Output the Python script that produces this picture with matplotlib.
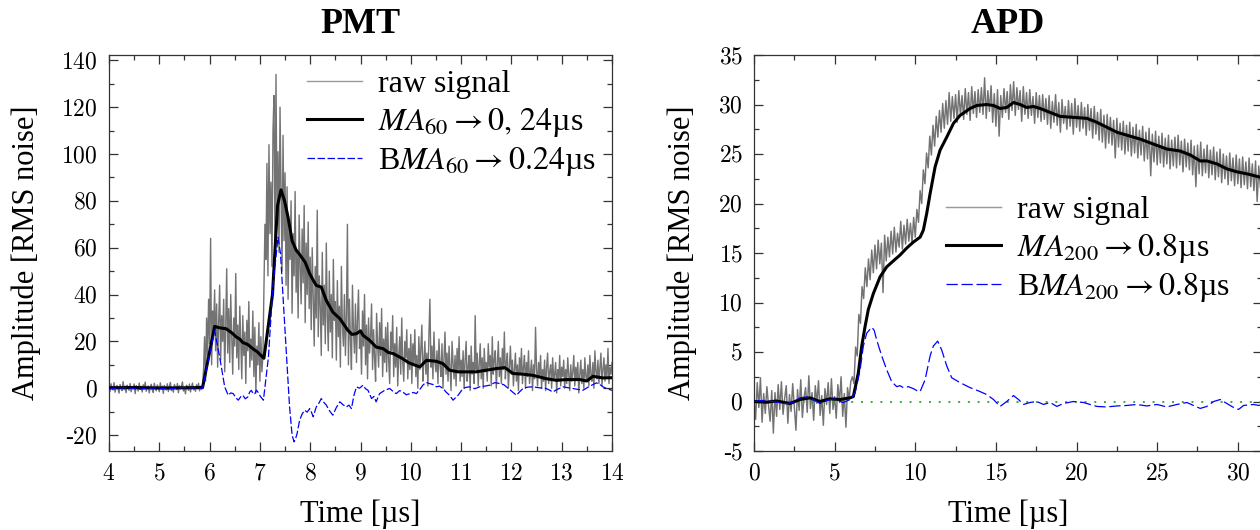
import numpy as np
import matplotlib
matplotlib.use("Agg")
import matplotlib.pyplot as plt
from matplotlib.ticker import MultipleLocator, FuncFormatter

# ---------------- PMT data ----------------
pmt_t0, pmt_dt = 4.0, 0.02
pmt_raw = [
    # 4.00 - 5.86 baseline
    0.6, -1.4, 1.9, 0.2, -0.8, 2.4, -1.7, 0.5, 1.2, -0.3,
    -2.1, 1.6, 0.1, -1.0, 2.8, -0.6, 0.9, -1.9, 1.3, 0.4,
    -0.9, 2.0, -1.5, 0.7, -0.2, 1.8, -2.3, 1.1, 0.3, -1.2,
    2.2, -0.5, 0.8, -1.6, 1.5, -0.1, 2.6, -1.3, 0.2, 1.0,
    -2.0, 0.6, 1.7, -0.7, -1.8, 2.1, 0.0, -1.1, 1.4, 0.5,
    -1.5, 2.3, -0.4, 0.9, -2.2, 1.2, 0.3, -0.8, 1.9, -1.4,
    0.7, 2.5, -1.0, 0.1, -1.7, 1.6, 0.4, -0.6, 2.0, -1.9,
    1.1, -0.3, 0.8, 2.7, -1.2, 0.2, -2.4, 1.3, 0.6, -0.9,
    1.8, -1.6, 0.5, 2.2, -0.7, 0.0, -1.3, 1.5, -0.2, 2.1,
    -1.1, 0.9, -0.5, 1.4,
    # 5.88 - 7.06 first pulse
    8, 22, 3, 30, 14, 38, 19, 64, 10, 33, 25, 42,
    16, 36, 9, 28, 44, 12, 31, 20, 38, 7, 26, 51, 15, 34, 11, 40, 22, 6, 30, 18,
    49, 13, 27, 8, 35, 19, 4, 31, 14, 24, 2, 29, 16, 37, 9, 21, 12, 33, 5, 26,
    -2, 18, 10, 28, 3, 22, 7, 14,
    # 7.08 - 7.50 main pulse
    42, 70, 55, 96, 48, 104, 66, 88, 52, 110, 125, 60, 134, 72, 101, 58, 120, 84,
    50, 108, 63, 92,
    # 7.52 - 8.00
    44, 86, 38, 70, 55, 80, 32, 66, 48, 84, 41, 59, 30, 74, 52, 36, 68, 45, 78, 28,
    62, 40, 71, 34, 56,
    # 8.02 - 8.50
    25, 60, 38, 18, 52, 30, 76, 22, 48, 35, 14, 58, 27, 44, 19, 62, 31, 16, 50, 24,
    40, 13, 55, 29, 37,
    # 8.52 - 9.00
    12, 46, 22, 35, 9, 52, 27, 18, 40, 14, 31, 70, 10, 38, 21, 8, 44, 25, 15, 36,
    11, 29, 42, 17, 24,
    # 9.02 - 9.50
    6, 33, 18, 40, 10, 27, 4, 30, 15, 22, 36, 8, 25, 13, 3, 32, 19, 9, 28, 14,
    34, 5, 21, 11, 26,
    # 9.52 - 10.00
    7, 28, 12, 2, 24, 16, 31, 5, 19, 9, 26, 1, 14, 22, 6, 30, 11, 3, 20, 13,
    25, 4, 17, 8, 23,
    # 10.02 - 10.50
    2, 19, 10, 25, 5, 14, 0, 22, 8, 17, 27, 3, 12, 20, 6, 15, 1, 23, 38, 9,
    18, 4, 24, 11, 7,
    # 10.52 - 11.00
    16, 2, 21, 10, 5, 19, 0, 13, 24, 6, 15, 3, 18, 8, -1, 20, 11, 4, 14, 1,
    17, 7, 22, 3, 12,
    # 11.02 - 11.50
    5, 16, 0, 12, 20, 3, 9, 14, -1, 18, 6, 11, 2, 31, 8, 15, 1, 10, 19, 4,
    13, 0, 17, 7, 11,
    # 11.52 - 12.00
    3, 19, 9, 14, 1, 22, 6, 12, 16, 0, 10, 20, 5, 13, 2, 17, 8, 24, 4, 11,
    15, 0, 9, 18, 6,
    # 12.02 - 12.50
    12, 1, 8, 15, 3, 10, -1, 13, 6, 17, 2, 9, 14, 0, 11, 5, 16, 2, 7, 12,
    -1, 10, 4, 26, 8,
    # 12.52 - 13.00
    1, 11, 5, 14, 0, 8, 3, 12, -1, 9, 15, 2, 7, 10, 0, 13, 4, 6, 11, -2,
    8, 3, 14, 1, 9,
    # 13.02 - 13.50
    5, 12, 0, 8, 2, 13, 6, -1, 10, 3, 7, 14, 1, 9, 4, 11, -2, 6, 12, 2,
    8, 0, 13, 5, 3,
    # 13.52 - 14.00
    10, 1, 14, 6, 3, 11, 0, 16, 7, 4, 12, 2, 9, 15, 1, 8, 13, 3, 10, 5,
    17, 2, 9, 6, 11,
]
pmt_ma_t = [4.0, 4.5, 5.0, 5.5, 5.86, 6.10, 6.2, 6.33, 6.45, 6.53, 6.6, 6.66, 6.75, 6.86,
            6.95, 7.08, 7.25, 7.35, 7.42, 7.49, 7.56, 7.64, 7.72, 7.78, 7.9, 7.99, 8.05,
            8.12, 8.22, 8.32, 8.45, 8.59, 8.75, 8.83, 8.92, 9.0, 9.05, 9.18, 9.31, 9.45,
            9.55, 9.65, 9.84, 9.95, 10.04, 10.18, 10.25, 10.31, 10.51, 10.64, 10.77,
            10.94, 11.1, 11.3, 11.5, 11.7, 11.87, 12.03, 12.23, 12.43, 12.69, 12.89,
            13.1, 13.36, 13.5, 13.62, 13.82, 14.0]
pmt_ma = [0.2, 0.3, 0.1, 0.2, 0.3, 26.4, 25.8, 25.4, 23.5, 21.9, 21.0, 19.5, 18.8, 16.9,
          15.5, 12.8, 40.0, 78.0, 84.7, 80.0, 73.0, 63.0, 59.0, 57.4, 53.8, 48.9, 46.5,
          43.9, 43.2, 37.5, 32.5, 29.7, 24.7, 23.0, 23.3, 24.5, 22.6, 20.5, 17.6, 16.9,
          15.3, 14.8, 12.6, 11.0, 10.2, 9.1, 10.6, 11.9, 11.5, 10.5, 7.7,
          7.0, 7.0, 7.0, 7.7, 8.4, 8.8, 6.3, 6.0, 5.5, 4.1, 3.4,
          3.7, 3.7, 3.1, 5.1, 4.4, 4.5]
pmt_bma_t = [4.0, 4.3, 4.6, 4.9, 5.2, 5.5, 5.86, 6.10, 6.2, 6.3, 6.37, 6.42, 6.47, 6.52,
             6.57, 6.62, 6.66, 6.71, 6.76, 6.8, 6.83, 6.87, 6.9, 6.93, 6.96, 7.01, 7.07,
             7.17, 7.26, 7.36, 7.41, 7.48, 7.55, 7.59, 7.64, 7.68, 7.71, 7.74, 7.79, 7.84,
             7.89, 7.94, 7.99, 8.03, 8.06, 8.12, 8.17, 8.22, 8.27, 8.32, 8.38, 8.45, 8.52,
             8.59, 8.65, 8.72, 8.77, 8.82, 8.87, 8.92, 8.98, 9.05, 9.1, 9.15, 9.22, 9.27,
             9.31, 9.38, 9.48, 9.58, 9.65, 9.71, 9.78, 9.84, 9.91, 9.98, 10.05, 10.11,
             10.18, 10.24, 10.3, 10.37, 10.44, 10.51, 10.57, 10.64, 10.7, 10.77, 10.84,
             10.9, 10.94, 11.0, 11.04, 11.1, 11.17, 11.27, 11.37, 11.47, 11.57, 11.67,
             11.77, 11.85, 11.9, 12.0, 12.1, 12.16, 12.23, 12.33, 12.43, 12.55, 12.69,
             12.76, 12.82, 12.92, 13.03, 13.13, 13.22, 13.32, 13.42, 13.55, 13.69, 13.76,
             13.82, 13.9, 14.0]
pmt_bma = [-0.3, 0.2, -0.4, 0.1, -0.2, 0.3, 0.0, 24.5, 13.4, 0.6, -3.0, -2.0, -2.3, -4.0,
           -5.1, -3.6, -3.0, -4.5, -3.7, -1.5, -0.9, -2.5, -2.3, -0.8, -1.6, -3.5, -5.1,
           13.4, 44.0, 64.5, 57.4, 31.8, 6.3, -8.0, -20.0, -22.9, -21.5, -19.3, -13.6, -11.0,
           -9.4, -10.2, -8.7, -10.5, -12.2, -8.0, -6.5, -4.4, -6.0, -7.2, -9.5, -11.5, -8.2,
           -5.8, -7.0, -8.0, -7.2, -8.7, -3.0, 0.6, 0.0, 1.3, -0.2, -0.9, -4.4, -3.5,
           -5.8, -2.3, -0.9, -0.1, -1.4, -2.3, -1.0, -1.6, -2.8, -2.3, -1.8, -2.3,
           -0.5, 1.3, 2.5, 2.0, 1.6, 0.6, 0.9, -0.1, -1.6, -3.0, -5.1,
           -3.8, -3.0, -1.2, -0.1, 0.4, 0.6, -0.2, 0.6, 0.9, 1.3, 2.4,
           2.0, 1.5, 0.6, -1.2, -3.0, -1.6, -0.1, 0.5, 0.6, 0.2, -0.1,
           -0.8, -1.6, -0.4, 0.6, 0.2, -0.1, -0.5, -0.9, 0.8, 2.3, 1.6,
           0.6, -0.2, -0.9]

# ---------------- APD data ----------------
apd_t0, apd_dt = 0.0, 0.1
apd_raw = [
    0.5, -1.8, 1.9, -0.6, 2.4, -2.1, 0.8, -1.2, 1.5, -0.4,
    -2.0, 1.1, -3.2, 0.9, -1.5, 1.7, -0.8, 2.0, -1.3, 0.3,
    1.6, -2.2, 0.7, -1.0, 1.8, -0.5, -2.9, 1.2, -0.9, 2.2,
    -1.6, 0.4, 1.4, -1.1, 2.6, -0.7, 0.9, -1.9, 1.6, -0.2,
    2.1, -1.4, 0.6, -2.4, 1.3, -0.3, 1.9, -1.2, 2.3, -0.8,
    0.5, -1.7, 1.7, -0.1, 2.5, -1.5, 0.8, -2.6, 1.4, 0.2, 2.0,
    2.5, 1.8, 5.5, 4.6, 8.8, 7.9, 11.6, 10.4, 13.5, 11.6,
    14.4, 12.3, 15.3, 13.0, 15.8, 13.4, 16.3, 13.9, 16.0, 11.0,
    16.8, 14.2, 16.6, 14.6, 17.2, 14.9, 17.6, 15.1, 17.0, 15.6,
    18.2, 15.4, 17.8, 15.9, 18.4, 16.2, 18.0, 16.0, 18.6, 16.6,
    19.4, 18.1, 21.3, 20.0, 23.4, 22.0, 25.1, 23.6, 26.8, 24.9,
    27.9, 25.8, 28.8, 26.7, 29.4, 27.2, 30.1, 27.6, 30.4, 28.0,
    31.2, 28.3, 30.8, 28.6, 31.0, 28.2, 31.4, 28.9, 30.9, 28.5,
    31.6, 29.0, 31.2, 28.4, 31.8, 29.1, 31.3, 28.7, 31.5, 29.2,
    31.7, 29.0, 32.7, 28.6, 31.4, 29.3, 31.9, 28.2, 31.1, 27.8,
    31.5, 26.8, 30.9, 28.7, 31.6, 29.2, 31.3, 28.5, 32.0, 29.4,
    32.3, 28.9, 31.7, 29.5, 31.4, 28.3, 31.8, 29.0, 31.2, 28.6,
    31.5, 28.9, 30.8, 28.1, 31.2, 28.7, 30.9, 28.3, 31.0, 28.5,
    30.6, 28.0, 30.9, 27.6, 30.3, 28.2, 31.0, 27.9, 30.2, 27.2,
    30.5, 28.1, 29.8, 27.5, 30.4, 27.8, 30.1, 27.0, 30.6, 27.7,
    29.9, 27.3, 30.2, 27.6, 29.7, 26.9, 30.0, 27.4, 29.6, 26.6,
    29.8, 27.0, 29.2, 26.4, 29.5, 26.2, 28.9, 25.6, 29.0, 26.1,
    28.7, 25.9, 28.4, 24.6, 28.6, 25.7, 28.1, 25.4, 28.3, 25.0,
    27.9, 25.3, 28.2, 24.8, 27.7, 25.1, 28.0, 24.6, 27.4, 24.9,
    27.8, 24.3, 27.2, 24.5, 27.6, 22.8, 27.0, 24.2, 27.3, 23.9,
    26.8, 24.1, 27.1, 23.7, 26.6, 24.0, 26.9, 23.5, 26.4, 23.8,
    26.7, 23.6, 26.9, 23.9, 26.3, 23.2, 26.5, 23.7, 26.1, 23.4,
    26.4, 22.9, 25.8, 21.7, 25.9, 23.0, 26.2, 22.8, 25.5, 23.1,
    25.9, 22.6, 25.4, 22.9, 25.7, 22.4, 25.2, 22.7, 25.5, 22.1,
    25.0, 22.5, 24.8, 21.9, 25.1, 22.3, 24.6, 21.8, 24.9, 22.0,
    24.5, 21.6, 24.7, 21.9, 24.2, 21.5, 24.6, 21.7, 24.0, 21.3,
    24.3, 20.2, 23.8, 21.6,
]
apd_ma_t = [0.0, 0.79, 1.4, 2.23, 2.85, 3.47, 4.09, 4.71, 5.33, 5.96, 6.16, 6.47, 6.68,
            6.89, 7.09, 7.40, 7.82, 8.23, 8.64, 9.06, 9.47, 9.88, 10.3, 10.5, 10.71,
            10.92, 11.23, 11.54, 11.95, 12.37, 12.78, 13.4, 13.81, 14.43, 14.85, 15.26,
            15.67, 16.09, 16.5, 16.91, 17.33, 17.74, 18.36, 18.98, 19.81, 20.64, 21.26,
            21.88, 22.5, 23.12, 23.95, 24.77, 25.6, 26.43, 27.05, 27.67, 28.08, 28.7,
            29.32, 29.94, 30.56, 31.29, 31.5]
apd_ma = [0.0, -0.07, 0.05, -0.2, 0.2, 0.37, 0.0, 0.27, 0.2, 0.37, 0.5, 2.9, 5.6,
          7.6, 9.3, 10.9, 12.6, 13.6, 14.2, 14.8, 15.5, 16.1, 16.6, 17.3, 19.0,
          21.0, 23.7, 25.4, 26.7, 28.1, 28.9, 29.6, 29.9, 30.0, 29.9, 29.6,
          29.7, 30.2, 30.0, 29.7, 29.8, 29.6, 29.2, 28.8, 28.7, 28.6, 28.2,
          27.7, 27.2, 26.9, 26.5, 26.0, 25.5, 25.3, 24.9, 24.3, 24.3, 24.0,
          23.5, 23.2, 23.0, 22.7, 22.6]
apd_bma_t = [0.0, 0.5, 1.2, 2.03, 2.44, 2.85, 3.27, 3.68, 4.09, 4.5, 4.92, 5.33, 5.54,
             5.96, 6.27, 6.58, 6.78, 6.99, 7.3, 7.45, 7.61, 7.92, 8.23, 8.54, 8.85, 9.05,
             9.26, 9.57, 9.88, 10.1, 10.3, 10.61, 10.92, 11.12, 11.39, 11.64, 11.95,
             12.26, 12.78, 13.4, 14.02, 14.43, 14.85, 15.26, 15.67, 16.09, 16.4, 16.71,
             17.12, 17.53, 17.95, 18.36, 18.78, 19.19, 19.81, 20.43, 20.84, 21.26,
             21.88, 22.5, 23.12, 23.74, 24.36, 24.98, 25.6, 26.22, 26.84, 27.25, 27.67,
             28.08, 28.5, 28.91, 29.32, 29.73, 30.05, 30.36, 30.98, 31.29, 31.5]
apd_bma = [0.0, 0.1, 0.0, -0.23, -0.1, 0.37, 0.47, 0.2, -0.2, 0.1, 0.27, 0.0, -0.1,
           0.2, 0.87, 3.2, 5.6, 6.9, 7.5, 7.2, 6.2, 4.6, 3.2, 2.0, 1.5, 1.6,
           1.4, 1.5, 1.3, 1.1, 1.0, 2.2, 4.6, 5.6, 6.1, 5.2, 3.6,
           2.4, 1.9, 1.4, 1.0, 0.7, 0.2, -0.5, 0.0, 0.6, 0.2, -0.3,
           -0.1, 0.0, -0.3, -0.1, -0.5, -0.2, 0.0, -0.1, -0.3, -0.5,
           -0.55, -0.45, -0.4, -0.3, -0.45, -0.3, -0.55, -0.3, -0.1, -0.4, -0.7,
           -0.5, 0.0, 0.2, -0.2, -0.6, -0.8, -0.4, -0.3, -0.4, -0.3]

pmt_labels = ["raw signal", r"$MA_{60} \rightarrow 0,\,24$µs", r"B$MA_{60} \rightarrow 0.24$µs"]
apd_labels = ["raw signal", r"$MA_{200} \rightarrow 0.8$µs", r"B$MA_{200} \rightarrow 0.8$µs"]

# ---------------- style ----------------
plt.rcParams['font.family'] = ['Liberation Serif', 'DejaVu Serif']
plt.rcParams['mathtext.fontset'] = 'cm'

RAW_C = '#737373'
SPINE_C = '#333333'
LEG_FS = 23

fig = plt.figure(figsize=(12.6, 5.3), dpi=100)
ax1 = fig.add_axes([109 / 1260, 79 / 530, 503 / 1260, 396 / 530])
ax2 = fig.add_axes([754 / 1260, 79 / 530, 508 / 1260, 396 / 530])


def tick_fmt(v, pos):
    s = f"{abs(v):g}"
    return ("-" if v < 0 else "") + f"${s}$"


def style(ax):
    for sp in ax.spines.values():
        sp.set_linewidth(0.9)
        sp.set_color(SPINE_C)
    ax.tick_params(which='both', direction='in', top=True, right=True,
                   color=SPINE_C, width=0.9, labelsize=17)
    ax.tick_params(which='major', length=6.5)
    ax.tick_params(which='minor', length=3.3)
    ax.tick_params(axis='x', pad=9)
    ax.tick_params(axis='y', pad=8)
    ax.xaxis.set_major_formatter(FuncFormatter(tick_fmt))
    ax.yaxis.set_major_formatter(FuncFormatter(tick_fmt))
    ax.set_xlabel("Time [µs]", fontsize=22, labelpad=11)
    ax.set_ylabel("Amplitude [RMS noise]", fontsize=22, labelpad=15)


# ---- PMT ----
t_raw = pmt_t0 + pmt_dt * np.arange(len(pmt_raw))
l1, = ax1.plot(t_raw, pmt_raw, color=RAW_C, lw=1.0, zorder=2)
l2, = ax1.plot(pmt_ma_t, pmt_ma, color='black', lw=2.2, zorder=3)
l3, = ax1.plot(pmt_bma_t, pmt_bma, color='#0000ff', lw=0.9, ls=(0, (6, 2)), zorder=4)
ax1.set_xlim(4, 14)
ax1.set_ylim(-26.8, 142.3)
ax1.xaxis.set_major_locator(MultipleLocator(1))
ax1.xaxis.set_minor_locator(MultipleLocator(0.5))
ax1.yaxis.set_major_locator(MultipleLocator(20))
ax1.yaxis.set_minor_locator(MultipleLocator(10))
style(ax1)
ax1.set_title("PMT", fontsize=26, fontweight='bold', pad=16)
leg1 = ax1.legend([l1, l2, l3], pmt_labels, loc='upper left', bbox_to_anchor=(0.394, 0.962),
                  frameon=False, fontsize=LEG_FS, handlelength=1.72, handletextpad=0.5,
                  labelspacing=0.2, borderpad=0.0, borderaxespad=0.0)
for txt in leg1.get_texts():
    txt.set_math_fontfamily('stix')
leg1.get_lines()[0].set_color('#999999')

# ---- APD ----
t_raw2 = apd_t0 + apd_dt * np.arange(len(apd_raw))
ax2.axhline(0, color='#3daa3d', lw=1.4, ls=(0, (1, 4)), zorder=2.5)
m1, = ax2.plot(t_raw2, apd_raw, color=RAW_C, lw=1.05, zorder=2)
m2, = ax2.plot(apd_ma_t, apd_ma, color='black', lw=2.2, zorder=3)
m3, = ax2.plot(apd_bma_t, apd_bma, color='#0000ff', lw=0.9, ls=(0, (9, 3)), zorder=4)
ax2.set_xlim(0, 31.5)
ax2.set_ylim(-5, 35)
ax2.xaxis.set_major_locator(MultipleLocator(5))
ax2.xaxis.set_minor_locator(MultipleLocator(2.5))
ax2.yaxis.set_major_locator(MultipleLocator(5))
ax2.yaxis.set_minor_locator(MultipleLocator(2.5))
style(ax2)
ax2.set_title("APD", fontsize=26, fontweight='bold', pad=16)
leg2 = ax2.legend([m1, m2, m3], apd_labels, loc='upper left', bbox_to_anchor=(0.378, 0.644),
                  frameon=False, fontsize=LEG_FS, handlelength=1.72, handletextpad=0.5,
                  labelspacing=0.2, borderpad=0.0, borderaxespad=0.0)
for txt in leg2.get_texts():
    txt.set_math_fontfamily('stix')
leg2.get_lines()[0].set_color('#999999')

fig.savefig("out.png", dpi=100)
